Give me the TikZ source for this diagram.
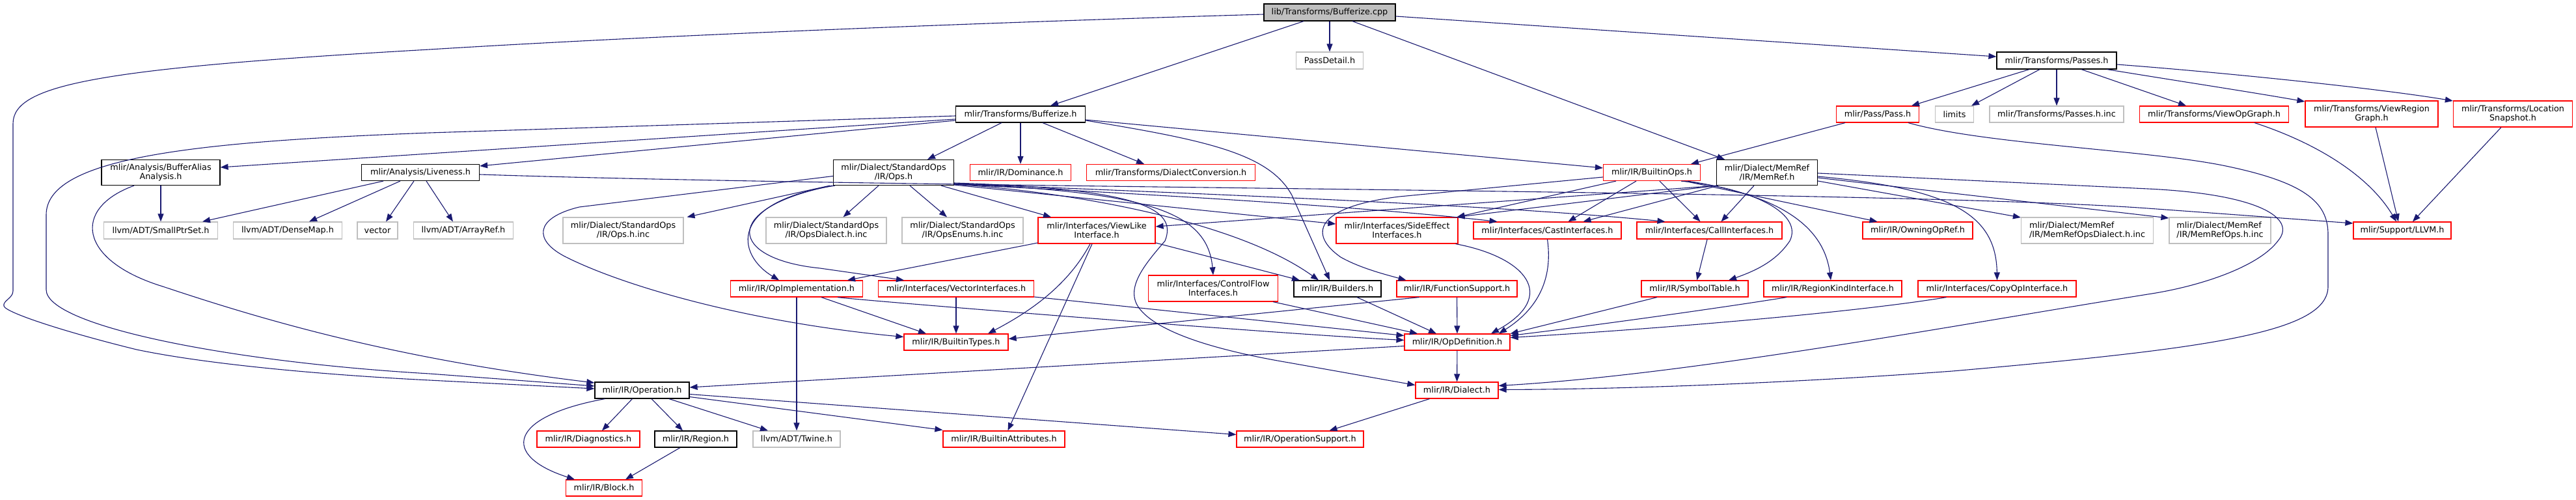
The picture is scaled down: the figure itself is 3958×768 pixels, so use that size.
\documentclass[tikz,border=0pt]{standalone}
\usepackage{fontspec}
\setmainfont{DejaVu Sans}
\usetikzlibrary{arrows.meta}
\definecolor{eblue}{HTML}{191970}
\definecolor{rborder}{HTML}{FF0000}
\definecolor{gborder}{HTML}{BFBFBF}
\definecolor{topfill}{HTML}{BFBFBF}
\newcommand{\nfont}{\fontsize{12.8pt}{14pt}\selectfont}
\tikzset{
  base/.style={rectangle, inner sep=0pt, line width=1.2pt, font=\nfont, align=center, text=black},
  kbox/.style={base, draw=black},
  rbox/.style={base, draw=rborder},
  gbox/.style={base, draw=gborder},
  topbox/.style={base, draw=black, fill=topfill},
  sz/.style 2 args={minimum width=#1pt, minimum height=#2pt},
  edge/.style={draw=eblue, line width=1.1pt, -{Triangle[length=12pt,width=9pt]}},
}
\begin{document}
\begin{tikzpicture}[x=1pt,y=-1pt]
\useasboundingbox (0,0) rectangle (3958,768);
% rank 0-1
\node[topbox, sz={202}{26}] (cpp) at (2043,19) {lib/Transforms/Bufferize.cpp};
\node[gbox, sz={103}{26}] (passdetail) at (2043,93) {PassDetail.h};
\node[kbox, sz={184}{26}] (passes) at (3160,93) {mlir/Transforms/Passes.h};
% rank 2
\node[kbox, sz={199}{25}] (bufh) at (1568,175.5) {mlir/Transforms/Bufferize.h};
\node[rbox, sz={127}{25}] (pass) at (2885,175.5) {mlir/Pass/Pass.h};
\node[gbox, sz={59}{25}] (limits) at (3003,175.5) {limits};
\node[gbox, sz={206}{25}] (passesinc) at (3160,175.5) {mlir/Transforms/Passes.h.inc};
\node[rbox, sz={229}{25}] (viewop) at (3402,175.5) {mlir/Transforms/ViewOpGraph.h};
\node[rbox, sz={204}{40}] (viewregion) at (3644,175) {mlir/Transforms/ViewRegion\\Graph.h};
\node[rbox, sz={183}{40}] (locsnap) at (3861,175) {mlir/Transforms/Location\\Snapshot.h};
% rank 3
\node[kbox, sz={182}{39}] (alias) at (247,265) {mlir/Analysis/BufferAlias\\Analysis.h};
\node[kbox, sz={181}{25}] (liveness) at (646,265) {mlir/Analysis/Liveness.h};
\node[kbox, sz={185}{39}] (ops) at (1373,265) {mlir/Dialect/StandardOps\\/IR/Ops.h};
\node[rbox, sz={155}{25}] (dominance) at (1568,265) {mlir/IR/Dominance.h};
\node[rbox, sz={259}{25}] (dialconv) at (1799,265) {mlir/Transforms/DialectConversion.h};
\node[rbox, sz={149}{25}] (builtinops) at (2538,265) {mlir/IR/BuiltinOps.h};
\node[kbox, sz={155}{39}] (memref) at (2715,265) {mlir/Dialect/MemRef\\/IR/MemRef.h};
% rank 4
\node[gbox, sz={175}{26}] (smallptr) at (247,354) {llvm/ADT/SmallPtrSet.h};
\node[gbox, sz={167}{26}] (densemap) at (442,354) {llvm/ADT/DenseMap.h};
\node[gbox, sz={62}{26}] (vector) at (580,354) {vector};
\node[gbox, sz={153}{26}] (arrayref) at (712,354) {llvm/ADT/ArrayRef.h};
\node[gbox, sz={185}{40}] (opsinc) at (957.5,354) {mlir/Dialect/StandardOps\\/IR/Ops.h.inc};
\node[gbox, sz={185}{40}] (opsdialect) at (1269.5,354) {mlir/Dialect/StandardOps\\/IR/OpsDialect.h.inc};
\node[gbox, sz={186}{40}] (opsenums) at (1479,354) {mlir/Dialect/StandardOps\\/IR/OpsEnums.h.inc};
\node[rbox, sz={180}{40}] (viewlike) at (1685,354) {mlir/Interfaces/ViewLike\\Interface.h};
\node[rbox, sz={187}{40}] (sideeffect) at (2146.5,354) {mlir/Interfaces/SideEffect\\Interfaces.h};
\node[rbox, sz={227}{26}] (cast) at (2377.5,354) {mlir/Interfaces/CastInterfaces.h};
\node[rbox, sz={223}{26}] (call) at (2626.5,354) {mlir/Interfaces/CallInterfaces.h};
\node[rbox, sz={169}{26}] (owning) at (2946.5,354) {mlir/IR/OwningOpRef.h};
\node[gbox, sz={203}{40}, align=left] (memrefdialect) at (3207,354) {mlir/Dialect/MemRef\\/IR/MemRefOpsDialect.h.inc};
\node[gbox, sz={156}{40}, align=left] (memrefops) at (3411,354) {mlir/Dialect/MemRef\\/IR/MemRefOps.h.inc};
\node[rbox, sz={150}{26}] (llvm) at (3691,354) {mlir/Support/LLVM.h};
% rank 5
\node[rbox, sz={203}{25}] (opimpl) at (1224,443.5) {mlir/IR/OpImplementation.h};
\node[rbox, sz={239}{25}] (vectorif) at (1469,443.5) {mlir/Interfaces/VectorInterfaces.h};
\node[rbox, sz={199}{40}] (controlflow) at (1864,443) {mlir/Interfaces/ControlFlow\\Interfaces.h};
\node[kbox, sz={134}{25}] (builders) at (2055,443.5) {mlir/IR/Builders.h};
\node[rbox, sz={185}{25}] (funcsupport) at (2238.5,443.5) {mlir/IR/FunctionSupport.h};
\node[rbox, sz={164}{25}] (symtab) at (2604,443.5) {mlir/IR/SymbolTable.h};
\node[rbox, sz={212}{25}] (regionkind) at (2816,443.5) {mlir/IR/RegionKindInterface.h};
\node[rbox, sz={243}{25}] (copyop) at (3068.5,443.5) {mlir/Interfaces/CopyOpInterface.h};
% rank 6
\node[rbox, sz={160}{25}] (builtintypes) at (1469,525.5) {mlir/IR/BuiltinTypes.h};
\node[rbox, sz={162}{25}] (opdef) at (2239,525.5) {mlir/IR/OpDefinition.h};
% rank 7
\node[kbox, sz={145}{25}] (operation) at (986.5,599.5) {mlir/IR/Operation.h};
\node[rbox, sz={127}{25}] (dialect) at (2238.5,599.5) {mlir/IR/Dialect.h};
% rank 8
\node[rbox, sz={158}{25}] (diagnostics) at (904,674.5) {mlir/IR/Diagnostics.h};
\node[kbox, sz={126}{25}] (region) at (1069,674.5) {mlir/IR/Region.h};
\node[gbox, sz={134}{25}] (twine) at (1224,674.5) {llvm/ADT/Twine.h};
\node[rbox, sz={187}{25}] (builtinattr) at (1542.5,674.5) {mlir/IR/BuiltinAttributes.h};
\node[rbox, sz={195}{25}] (opsupport) at (1997.5,674.5) {mlir/IR/OperationSupport.h};
% rank 9
\node[rbox, sz={117}{25}] (block) at (928,749.5) {mlir/IR/Block.h};

% ---- edges from cpp
\draw[edge] ([yshift=-3pt]cpp.west) .. controls (1500,35) and (1000,55) .. (660,76) .. controls (150,105) and (20,130) .. (20,190) -- (20,447) .. controls (20,458) and (4,462) .. (6,470) .. controls (8,480) and (100,510) .. (210,537) .. controls (320,560) and (500,576) .. (660,584) -- ([yshift=2.5pt]operation.west);
\draw[edge] (cpp) -- (passdetail);
\draw[edge] ([xshift=-40pt]cpp.south) -- ([xshift=46pt]bufh.north);
\draw[edge] ([xshift=35pt]cpp.south) -- ([xshift=-65pt]memref.north);
\draw[edge] ([yshift=-6pt]cpp.east) -- ([yshift=6pt]passes.west);
% ---- bufh
\draw[edge] ([yshift=-7.5pt]bufh.west) -- ([yshift=8pt]alias.east);
\draw[edge] ([yshift=-9.5pt]bufh.west) -- ([yshift=10pt]liveness.east);
\draw[edge] ([yshift=-2.5pt]bufh.west) -- (660,204) .. controls (280,218) and (71,245) .. (71,330) -- (71,445) .. controls (71,500) and (350,556) .. (660,574) -- ([yshift=6.5pt]operation.west);
\draw[edge] ([xshift=-29pt]bufh.south) -- ([xshift=52pt]ops.north);
\draw[edge] (bufh) -- (dominance);
\draw[edge] ([xshift=34pt]bufh.south) -- ([xshift=-41pt]dialconv.north);
\draw[edge] ([yshift=-8.5pt]bufh.east) -- ([yshift=7pt]builtinops.west);
\draw[edge] ([yshift=-9.5pt]bufh.east) .. controls (1850,215) and (1950,235) .. (1985,300) -- ([xshift=-12pt]builders.north);
% ---- alias
\draw[edge] (alias) -- (smallptr);
\draw[edge] ([xshift=-41pt]alias.south) .. controls (110,320) and (120,400) .. (250,440) .. controls (400,490) and (600,550) .. ([yshift=11.5pt]operation.west);
% ---- liveness
\draw[edge] ([xshift=-57pt]liveness.south) -- ([xshift=64pt]smallptr.north);
\draw[edge] ([xshift=-31pt]liveness.south) -- ([xshift=33pt]densemap.north);
\draw[edge] ([xshift=-10pt]liveness.south) -- ([xshift=13pt]vector.north);
\draw[edge] ([xshift=9pt]liveness.south) -- ([xshift=-16pt]arrayref.north);
\draw[edge] ([yshift=-3pt]liveness.east) .. controls (1400,290) and (2900,291) .. (3300,320) -- ([yshift=11pt]llvm.west);
% ---- ops
\draw[edge] ([xshift=-98pt]ops.south) -- ([xshift=98pt]opsinc.north);
\draw[edge] ([xshift=-23pt]ops.south) -- ([xshift=26pt]opsdialect.north);
\draw[edge] ([xshift=25pt]ops.south) -- ([xshift=-24pt]opsenums.north);
\draw[edge] ([xshift=73pt]ops.south) -- ([xshift=-70pt]viewlike.north);
\draw[edge] ([yshift=-5.5pt]ops.west) -- (890,318) .. controls (820,335) and (820,370) .. (870,395) .. controls (960,440) and (1150,495) .. ([yshift=8pt]builtintypes.west);
\draw[edge] ([xshift=-90pt]ops.south) .. controls (1120,310) and (1130,390) .. ([xshift=-27pt]opimpl.north);
\draw[edge] ([xshift=-94pt]ops.south) .. controls (1105,320) and (1120,398) .. (1260,412) -- ([xshift=-80pt]vectorif.north);
\draw[edge] ([yshift=-17pt]ops.east) .. controls (1750,295) and (1855,320) .. (controlflow.north);
\draw[edge] ([yshift=-18pt]ops.east) .. controls (1650,295) and (1900,340) .. ([xshift=-29pt]builders.north);
\draw[edge] ([yshift=-16pt]ops.east) .. controls (1750,290) and (1810,320) .. (1790,370) .. controls (1760,405) and (1730,440) .. (1748,470) .. controls (1770,505) and (1850,535) .. (1980,557) -- ([yshift=8pt]dialect.west);
\draw[edge] ([yshift=-19pt]ops.east) -- ([yshift=10pt]sideeffect.west);
\draw[edge] ([yshift=-18pt]ops.east) .. controls (1800,300) and (2100,318) .. ([xshift=-77pt]cast.north);
\draw[edge] ([yshift=-17pt]ops.east) .. controls (1900,300) and (2300,315) .. ([xshift=-68pt]call.north);
% ---- builtinops
\draw[edge] ([xshift=-55pt]builtinops.south) -- ([xshift=92pt]sideeffect.north);
\draw[edge] ([xshift=-24pt]builtinops.south) -- ([xshift=32pt]cast.north);
\draw[edge] ([xshift=12pt]builtinops.south) -- ([xshift=-14pt]call.north);
\draw[edge] ([yshift=-7pt]builtinops.west) -- (2150,302) .. controls (2020,318) and (2010,360) .. (2060,395) .. controls (2090,412) and (2130,422) .. ([xshift=-78pt]funcsupport.north);
\draw[edge] ([xshift=50pt]builtinops.south) -- ([xshift=-62pt]owning.north);
\draw[edge] ([xshift=45pt]builtinops.south) .. controls (2700,290) and (2770,330) .. (2750,370) .. controls (2730,400) and (2700,415) .. ([xshift=52pt]symtab.north);
\draw[edge] ([xshift=55pt]builtinops.south) .. controls (2700,295) and (2800,330) .. ([xshift=-3pt]regionkind.north);
% ---- pass
\draw[edge] ([xshift=-50pt]pass.south) -- ([xshift=60pt]builtinops.north);
\draw[edge] ([xshift=47pt]pass.south) .. controls (3050,222) and (3300,230) .. (3420,255) .. controls (3540,280) and (3577,310) .. (3577,360) -- (3577,440) .. controls (3577,510) and (3400,535) .. (3000,570) .. controls (2700,592) and (2450,598) .. ([yshift=1pt]dialect.east);
% ---- memref
\draw[edge] ([yshift=-1pt]memref.east) -- (3300,290) .. controls (3470,298) and (3530,335) .. (3500,370) .. controls (3470,410) and (3380,440) .. (3300,452) .. controls (3000,500) and (2600,575) .. ([yshift=7pt]dialect.east);
\draw[edge] ([yshift=-6pt]memref.east) .. controls (3000,290) and (3067,330) .. (copyop.north);
\draw[edge] ([yshift=-8pt]memref.east) -- ([yshift=19pt]memrefops.west);
\draw[edge] ([yshift=-13pt]memref.east) -- ([yshift=20pt]memrefdialect.west);
\draw[edge] ([xshift=-20pt]memref.south) -- ([xshift=18pt]call.north);
\draw[edge] ([xshift=-77pt]memref.south) -- ([xshift=92pt]sideeffect.north);
\draw[edge] ([xshift=-75pt]memref.south) -- ([xshift=55pt]cast.north);
\draw[edge] ([xshift=-76pt]memref.south) -- ([yshift=6pt]viewlike.east);
% ---- passes
\draw[edge] ([xshift=-42pt]passes.south) -- ([xshift=52pt]pass.north);
\draw[edge] ([xshift=-26pt]passes.south) -- ([xshift=26pt]limits.north);
\draw[edge] (passes) -- (passesinc);
\draw[edge] ([xshift=38pt]passes.south) -- ([xshift=-43pt]viewop.north);
\draw[edge] ([xshift=-15pt]passes.south east) .. controls (3350,125) and (3450,140) .. ([yshift=19pt]viewregion.west);
\draw[edge] ([yshift=-6pt]passes.east) .. controls (3400,110) and (3650,135) .. ([yshift=20pt]locsnap.west);
% ---- views
\draw[edge] ([xshift=62pt]viewop.south) .. controls (3560,220) and (3640,270) .. ([xshift=-9pt]llvm.north);
\draw[edge] ([xshift=6pt]viewregion.south) -- ([xshift=-6pt]llvm.north);
\draw[edge] ([xshift=-18pt]locsnap.south) -- ([xshift=16pt]llvm.north);
% ---- viewlike
\draw[edge] ([yshift=-19pt]viewlike.west) -- ([xshift=78pt]opimpl.north);
\draw[edge] ([xshift=-10pt]viewlike.south) .. controls (1640,440) and (1580,480) .. ([xshift=49pt]builtintypes.north);
\draw[edge] ([xshift=-7pt]viewlike.south) -- ([xshift=6pt]builtinattr.north);
\draw[edge] ([yshift=-19pt]viewlike.east) -- ([xshift=-58pt]builders.north);
% ---- rank 5
\draw[edge] (opimpl) -- (twine);
\draw[edge] ([xshift=38pt]opimpl.south) -- ([xshift=-46pt]builtintypes.north);
\draw[edge] ([xshift=63pt]opimpl.south) .. controls (1330,462) and (1950,512) .. ([yshift=3pt]opdef.west);
\draw[edge] (vectorif) -- (builtintypes);
\draw[edge] ([yshift=-12.5pt]vectorif.east) -- ([yshift=10pt]opdef.west);
\draw[edge] ([xshift=92pt]controlflow.south) -- ([xshift=-61pt]opdef.north);
\draw[edge] ([xshift=30pt]builders.south) -- ([xshift=-32pt]opdef.north);
\draw[edge] ([xshift=-58pt]funcsupport.south) -- ([yshift=5pt]builtintypes.east);
\draw[edge] (funcsupport) -- (opdef);
\draw[edge] ([xshift=90pt]sideeffect.south) .. controls (2345,395) and (2395,455) .. ([xshift=52pt]opdef.north);
\draw[edge] (cast.south) .. controls (2385,420) and (2370,470) .. ([xshift=64pt]opdef.north);
\draw[edge] (call) -- (symtab);
\draw[edge] ([xshift=-58pt]symtab.south) -- ([yshift=13pt]opdef.east);
\draw[edge] ([xshift=-71pt]regionkind.south) .. controls (2650,472) and (2450,500) .. ([yshift=10pt]opdef.east);
\draw[edge] ([xshift=-78pt]copyop.south) .. controls (2850,480) and (2550,505) .. ([yshift=7pt]opdef.east);
\draw[edge] (opdef) -- (dialect);
\draw[edge] ([yshift=-6pt]opdef.west) -- ([yshift=4.5pt]operation.east);
% ---- operation
\draw[edge] ([xshift=-57pt]operation.south) .. controls (780,640) and (770,700) .. ([xshift=-45pt]block.north);
\draw[edge] ([xshift=-15pt]operation.south) -- ([xshift=21pt]diagnostics.north);
\draw[edge] ([xshift=14.5pt]operation.south) -- ([xshift=-20pt]region.north);
\draw[edge] ([xshift=41.5pt]operation.south) -- ([xshift=-44pt]twine.north);
\draw[edge] ([yshift=-10pt]operation.east) -- ([yshift=14pt]builtinattr.west);
\draw[edge] ([yshift=-6pt]operation.east) -- ([yshift=7pt]opsupport.west);
\draw[edge] ([xshift=-24pt]region.south) -- ([xshift=33pt]block.north);
\draw[edge] ([xshift=-42pt]dialect.south) -- ([xshift=45pt]opsupport.north);
\end{tikzpicture}
\end{document}
